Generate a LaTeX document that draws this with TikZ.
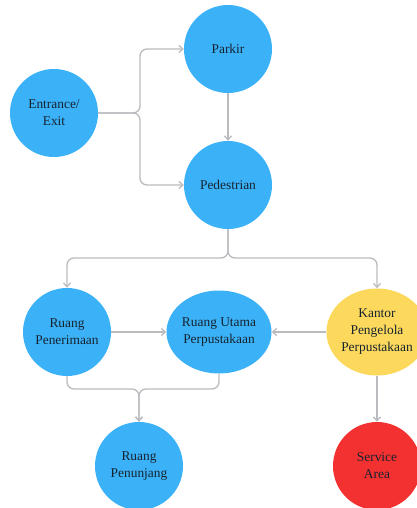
\documentclass[tikz,border=0pt]{standalone}
\usepackage{fontspec}
\setmainfont{Liberation Serif}
\usetikzlibrary{arrows.meta,shapes.geometric}
\definecolor{zoneblue}{HTML}{3BB2F8}
\definecolor{zoneyellow}{HTML}{FCD95C}
\definecolor{zonered}{HTML}{F43131}
\definecolor{flowgray}{HTML}{B9BBBF}
\definecolor{labelink}{HTML}{17222F}
\tikzset{
  zone/.style={circle, minimum size=88pt, inner sep=0pt, align=center,
    text=labelink, font=\fontsize{13.4}{17}\selectfont},
  flow/.style={draw=flowgray, line width=1.3pt, rounded corners=7pt,
    -{Straight Barb[length=4pt,width=7pt]}}
}
\begin{document}
\begin{tikzpicture}[x=1pt,y=-1pt]
\useasboundingbox (0,0) rectangle (417,508);
\node[zone, fill=zoneblue] (entry) at (54,113) {Entrance/\\Exit};
\node[zone, fill=zoneblue] (parkir) at (228,49) {Parkir};
\node[zone, fill=zoneblue] (ped) at (228,185) {Pedestrian};
\node[zone, fill=zoneblue] (terima) at (67,332) {Ruang\\Penerimaan};
\node[zone, ellipse, fill=zoneblue, minimum width=105pt, minimum height=83pt] (utama) at (219,332) {Ruang Utama\\Perpustakaan};
\node[zone, ellipse, fill=zoneyellow, minimum width=92pt, minimum height=87pt] (kantor) at (377,332) {Kantor\\Pengelola\\Perpustakaan};
\node[zone, fill=zoneblue] (tunjang) at (139,466) {Ruang\\Penunjang};
\node[zone, fill=zonered] (service) at (377,466) {Service\\Area};

\coordinate (split) at (140,113);
\coordinate (fork) at (228,258);
\coordinate (merge) at (139,389);

\draw[flow] (entry.east) -- (split) |- (parkir.west);
\draw[flow] (entry.east) -- (split) |- (ped.west);
\draw[flow] (parkir.south) -- (ped.north);
\draw[flow] (ped.south) -- (fork) -| (terima.north);
\draw[flow] (ped.south) -- (fork) -| (kantor.north);
\draw[flow] (terima.east) -- (utama.west);
\draw[flow] (kantor.west) -- (utama.east);
\draw[flow] (terima.south) |- (merge) -- (tunjang.north);
\draw[flow] (utama.south) |- (merge) -- (tunjang.north);
\draw[flow] (kantor.south) -- (service.north);
\end{tikzpicture}
\end{document}
